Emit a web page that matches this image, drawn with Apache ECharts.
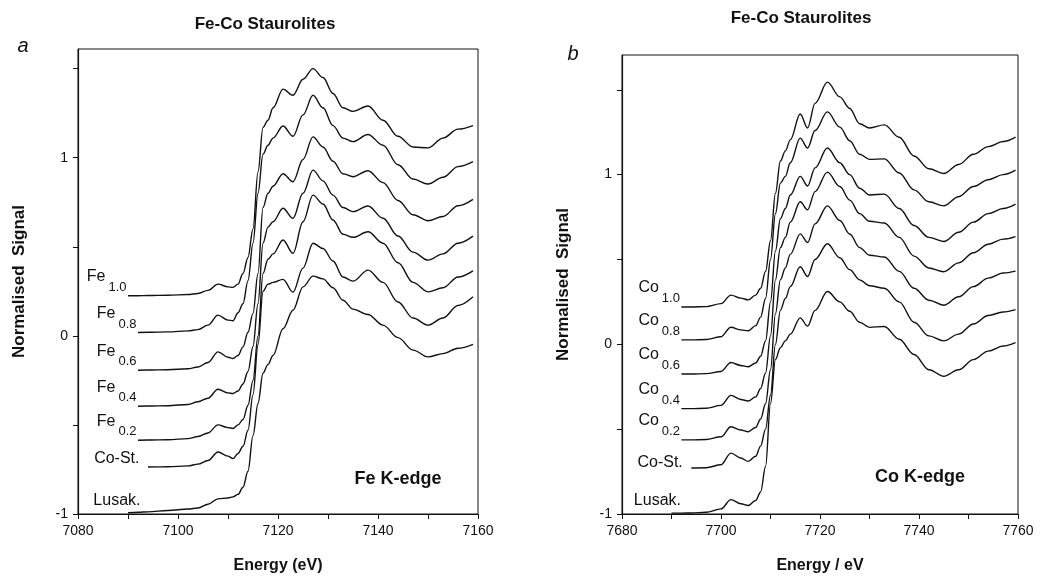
<!DOCTYPE html>
<html>
<head>
<meta charset="utf-8">
<script src="https://cdn.jsdelivr.net/npm/echarts@6/dist/echarts.min.js"></script>
<style>
  html, body { margin: 0; padding: 0; background: #fff; }
  #chart { width: 1040px; height: 579px; }
</style>
</head>
<body>
<div id="chart"></div>
<script>
// ---- panel a : Fe K-edge ----
const feEnergy = [7090, 7092, 7094, 7098, 7102, 7104, 7106, 7108, 7110, 7111, 7112, 7113, 7114, 7115, 7116, 7117,
  7118, 7119, 7121, 7123, 7125, 7127, 7129, 7131, 7133, 7135, 7138, 7141, 7144, 7147, 7150, 7153, 7156, 7159];
const fe10 = [0.225, 0.225, 0.226, 0.228, 0.232, 0.238, 0.255, 0.29, 0.275, 0.272, 0.29, 0.35, 0.44, 0.6, 0.92, 1.17,
  1.21, 1.28, 1.385, 1.35, 1.44, 1.50, 1.45, 1.36, 1.28, 1.26, 1.29, 1.21, 1.12, 1.06, 1.055, 1.11, 1.16, 1.18];
const fe08 = [null, 0.019, 0.02, 0.022, 0.028, 0.035, 0.06, 0.116, 0.088, 0.085, 0.13, 0.18, 0.31, 0.52, 0.80, 1.02,
  1.07, 1.11, 1.178, 1.12, 1.24, 1.35, 1.28, 1.18, 1.11, 1.09, 1.13, 1.07, 0.96, 0.88, 0.852, 0.89, 0.95, 0.978];
const fe06 = [null, -0.193, -0.192, -0.19, -0.185, -0.175, -0.15, -0.09, -0.12, -0.127, -0.11, -0.062, 0.02, 0.126, 0.35, 0.72,
  0.80, 0.84, 0.91, 0.865, 0.99, 1.117, 1.06, 0.98, 0.91, 0.893, 0.927, 0.86, 0.76, 0.68, 0.646, 0.67, 0.73, 0.766];
const fe04 = [null, -0.395, -0.394, -0.392, -0.385, -0.37, -0.35, -0.30, -0.32, -0.324, -0.31, -0.27, -0.2, -0.06, 0.18, 0.52,
  0.61, 0.64, 0.716, 0.66, 0.80, 0.93, 0.87, 0.79, 0.72, 0.697, 0.729, 0.66, 0.56, 0.47, 0.425, 0.46, 0.52, 0.56];
const fe02 = [null, -0.586, -0.585, -0.583, -0.577, -0.565, -0.545, -0.50, -0.515, -0.52, -0.50, -0.47, -0.39, -0.25, 0.0, 0.35,
  0.43, 0.46, 0.538, 0.463, 0.64, 0.79, 0.74, 0.65, 0.57, 0.553, 0.584, 0.52, 0.41, 0.30, 0.247, 0.27, 0.33, 0.365];
const feCoSt = [null, null, -0.736, -0.735, -0.73, -0.72, -0.70, -0.652, -0.675, -0.689, -0.66, -0.62, -0.53, -0.33, -0.05, 0.25,
  0.29, 0.30, 0.317, 0.245, 0.38, 0.52, 0.49, 0.42, 0.33, 0.307, 0.369, 0.30, 0.19, 0.10, 0.06, 0.10, 0.17, 0.219];
const feLusak = [-0.993, -0.99, -0.988, -0.98, -0.972, -0.966, -0.945, -0.915, -0.91, -0.904, -0.89, -0.85, -0.76, -0.56, -0.38, -0.21,
  -0.16, -0.11, 0.04, 0.144, 0.275, 0.335, 0.32, 0.27, 0.2, 0.15, 0.12, 0.06, -0.01, -0.08, -0.118, -0.10, -0.07, -0.048];

// ---- panel b : Co K-edge ----
const coEnergy = [7690, 7692, 7694, 7697, 7700, 7702, 7704, 7705.5, 7707, 7708, 7709, 7710, 7711, 7712, 7713, 7714,
  7716, 7717.5, 7719, 7721.5, 7724, 7726, 7728, 7730, 7733, 7736, 7739, 7742, 7745, 7748, 7751, 7754, 7757, 7759.5];
const co10 = [null, 0.22, 0.22, 0.222, 0.24, 0.29, 0.272, 0.262, 0.29, 0.33, 0.43, 0.61, 0.89, 1.08, 1.14, 1.205,
  1.357, 1.275, 1.42, 1.545, 1.458, 1.39, 1.30, 1.275, 1.293, 1.22, 1.11, 1.035, 1.007, 1.06, 1.12, 1.165, 1.195, 1.221];
const co08 = [null, 0.026, 0.026, 0.028, 0.045, 0.101, 0.085, 0.08, 0.11, 0.16, 0.27, 0.50, 0.77, 0.95, 0.99, 1.07,
  1.215, 1.157, 1.26, 1.37, 1.28, 1.20, 1.12, 1.09, 1.093, 1.01, 0.91, 0.84, 0.816, 0.87, 0.93, 0.97, 1.0, 1.026];
const co06 = [null, -0.175, -0.175, -0.173, -0.16, -0.107, -0.125, -0.132, -0.11, -0.07, 0.02, 0.25, 0.55, 0.74, 0.80, 0.88,
  0.99, 0.933, 1.04, 1.157, 1.07, 1.0, 0.92, 0.88, 0.885, 0.80, 0.70, 0.63, 0.606, 0.66, 0.72, 0.77, 0.80, 0.826];
const co04 = [null, -0.379, -0.379, -0.377, -0.36, -0.301, -0.325, -0.334, -0.31, -0.26, -0.17, 0.05, 0.38, 0.57, 0.63, 0.72,
  0.84, 0.793, 0.90, 1.015, 0.93, 0.85, 0.77, 0.725, 0.715, 0.63, 0.52, 0.45, 0.428, 0.48, 0.54, 0.59, 0.62, 0.635];
const co02 = [null, -0.563, -0.563, -0.561, -0.545, -0.486, -0.505, -0.515, -0.49, -0.44, -0.35, -0.15, 0.18, 0.38, 0.45, 0.53,
  0.651, 0.60, 0.71, 0.816, 0.73, 0.65, 0.57, 0.525, 0.515, 0.43, 0.33, 0.26, 0.23, 0.28, 0.34, 0.39, 0.42, 0.431];
const coCoSt = [null, null, -0.729, -0.727, -0.71, -0.641, -0.67, -0.69, -0.66, -0.6, -0.5, -0.3, 0.0, 0.20, 0.27, 0.34,
  0.457, 0.40, 0.50, 0.593, 0.51, 0.44, 0.38, 0.345, 0.33, 0.25, 0.13, 0.05, 0.02, 0.06, 0.12, 0.17, 0.19, 0.204];
const coLusak = [-0.995, -0.995, -0.994, -0.99, -0.97, -0.915, -0.94, -0.95, -0.92, -0.87, -0.72, -0.35, -0.09, -0.02, 0.02, 0.06,
  0.156, 0.107, 0.20, 0.311, 0.25, 0.195, 0.13, 0.10, 0.105, 0.03, -0.06, -0.15, -0.188, -0.15, -0.09, -0.04, -0.01, 0.01];

// curve labels
const feNames = ["Fe", "Fe", "Fe", "Fe", "Fe", "Co-St.", "Lusak."];
const coNames = ["Co", "Co", "Co", "Co", "Co", "Co-St.", "Lusak."];
const subNames = ["1.0", "0.8", "0.6", "0.4", "0.2", "", ""];

const FONT = "'Liberation Sans', Arial, Helvetica, sans-serif";
const chart = echarts.init(document.getElementById("chart"), null, { renderer: "canvas" });

// label placement next to the start of each curve
function labelFor(name, sub, panel) {
  if (sub) {
    return { show: true, position: "left", distance: 1, offset: [0, -14.5], formatter: "{m|" + name + "}{s|" + sub + "}" };
  }
  if (name === "Co-St.") {
    return { show: true, position: "left", distance: 8, offset: [0, panel === 0 ? -8 : -5], formatter: "{p|" + name + "}" };
  }
  // Lusak. sits above the start of its curve
  return { show: true, position: "left", distance: 0, offset: [panel === 0 ? 13 : 10, panel === 0 ? -12 : -13], formatter: "{p|" + name + "}" };
}

function makeSeries(energy, values, name, sub, panel) {
  const data = [];
  values.forEach((v, i) => {
    if (v === null) return;
    if (data.length === 0) {
      data.push({ value: [energy[i], v], symbol: "circle", symbolSize: 1, label: labelFor(name, sub, panel) });
    } else {
      data.push([energy[i], v]);
    }
  });
  return {
    type: "line",
    name: name + sub,
    xAxisIndex: panel,
    yAxisIndex: panel,
    data: data,
    symbol: "none",
    showSymbol: true,
    smooth: 0.35,
    smoothMonotone: "x",
    silent: true,
    itemStyle: { color: "rgba(0,0,0,0)" },
    lineStyle: { color: "#111", width: 1.4 },
    label: {
      color: "#111",
      fontFamily: FONT,
      rich: {
        m: { fontSize: 16, lineHeight: 16, verticalAlign: "top", color: "#111", fontFamily: FONT },
        s: { fontSize: 13, lineHeight: 25, verticalAlign: "bottom", padding: [0, 0, 0, 3], color: "#111", fontFamily: FONT },
        p: { fontSize: 16, lineHeight: 18, color: "#111", fontFamily: FONT }
      }
    }
  };
}

const feCurves = [fe10, fe08, fe06, fe04, fe02, feCoSt, feLusak];
const coCurves = [co10, co08, co06, co04, co02, coCoSt, coLusak];
const series = [];
feCurves.forEach((c, i) => series.push(makeSeries(feEnergy, c, feNames[i], subNames[i], 0)));
coCurves.forEach((c, i) => series.push(makeSeries(coEnergy, c, coNames[i], subNames[i], 1)));

function xAxis(min, name, idx) {
  return {
    type: "value", gridIndex: idx, min: min, max: min + 80, interval: 10,
    name: name, nameLocation: "middle", nameGap: 44,
    nameTextStyle: { fontFamily: FONT, fontSize: 16, fontWeight: "bold", color: "#111" },
    axisLine: { onZero: false, lineStyle: { color: "#111", width: 1.2 } },
    axisTick: { length: 5, lineStyle: { color: "#111" } },
    axisLabel: { margin: 10, fontFamily: FONT, fontSize: 14, color: "#111",
      formatter: v => (v % 20 === 0 ? String(v) : "") },
    splitLine: { show: false }
  };
}

function yAxis(max, idx) {
  return {
    type: "value", gridIndex: idx, min: -1, max: max, interval: 0.5,
    name: "Normalised  Signal", nameLocation: "middle", nameRotate: 90, nameGap: 50,
    nameTextStyle: { fontFamily: FONT, fontSize: 17, fontWeight: "bold", color: "#111" },
    axisLine: { onZero: false, lineStyle: { color: "#111", width: 1.2 } },
    axisTick: { length: 5, lineStyle: { color: "#111" } },
    axisLabel: { margin: 10, fontFamily: FONT, fontSize: 14, color: "#111", showMaxLabel: false,
      formatter: v => (Number.isInteger(v) ? String(v) : "") },
    splitLine: { show: false }
  };
}

const option = {
  backgroundColor: "#fff",
  animation: false,
  grid: [
    { left: 78, right: 562, top: 49, bottom: 63, show: true, borderColor: "#111", borderWidth: 1 },
    { left: 622, right: 22, top: 55, bottom: 60, show: true, borderColor: "#111", borderWidth: 1 }
  ],
  xAxis: [xAxis(7080, "Energy (eV)", 0), xAxis(7680, "Energy / eV", 1)],
  yAxis: [yAxis(1.61, 0), yAxis(1.705, 1)],
  series: series,
  graphic: [
    { type: "text", x: 265, y: 24, style: { text: "Fe-Co Staurolites", font: "bold 17px " + FONT, fill: "#111", align: "center", verticalAlign: "middle" } },
    { type: "text", x: 801, y: 18, style: { text: "Fe-Co Staurolites", font: "bold 17px " + FONT, fill: "#111", align: "center", verticalAlign: "middle" } },
    { type: "text", x: 23, y: 46, style: { text: "a", font: "italic 20px " + FONT, fill: "#111", align: "center", verticalAlign: "middle" } },
    { type: "text", x: 573, y: 54, style: { text: "b", font: "italic 20px " + FONT, fill: "#111", align: "center", verticalAlign: "middle" } },
    { type: "text", x: 398, y: 479, style: { text: "Fe K-edge", font: "bold 18px " + FONT, fill: "#111", align: "center", verticalAlign: "middle" } },
    { type: "text", x: 920, y: 477, style: { text: "Co K-edge", font: "bold 18px " + FONT, fill: "#111", align: "center", verticalAlign: "middle" } }
  ]
};

chart.setOption(option);
</script>
</body>
</html>
